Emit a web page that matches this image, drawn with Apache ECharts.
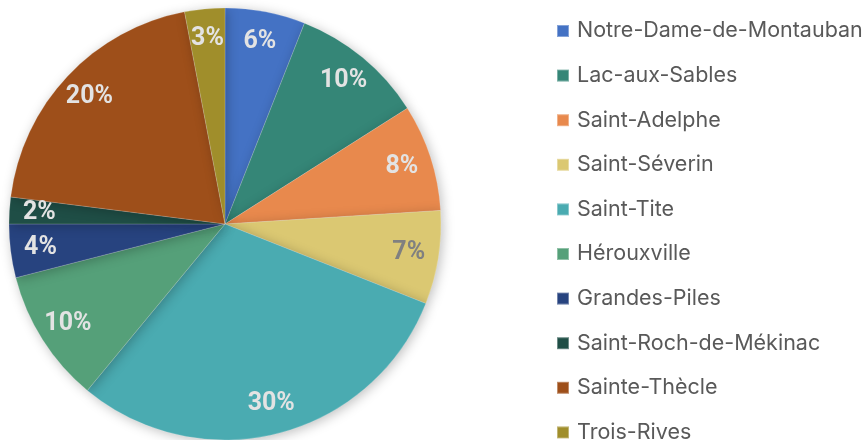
<!DOCTYPE html>
<html>
<head>
<meta charset="utf-8">
<script src="https://cdn.jsdelivr.net/npm/echarts@6/dist/echarts.min.js"></script>
<style>
  html, body { margin: 0; padding: 0; background: #fff; }
  #main { width: 865px; height: 440px; }
</style>
</head>
<body>
<div id="main"></div>
<script>
var names = ['Notre-Dame-de-Montauban', 'Lac-aux-Sables', 'Saint-Adelphe', 'Saint-Séverin', 'Saint-Tite',
  'Hérouxville', 'Grandes-Piles', 'Saint-Roch-de-Mékinac', 'Sainte-Thècle', 'Trois-Rives'];
var values = [6, 10, 8, 7, 30, 10, 4, 2, 20, 3];
var colors = ['#4472C4', '#358677', '#E8894D', '#DBC872', '#4AABB1',
  '#55A079', '#27437F', '#1F4E46', '#9E4F1A', '#A08E2B'];
var labelColors = ['#E3E3E3', '#E3E3E3', '#E3E3E3', '#808080', '#E3E3E3',
  '#E3E3E3', '#E3E3E3', '#E3E3E3', '#E3E3E3', '#E3E3E3'];

var myChart = echarts.init(document.getElementById('main'));

var pieData = names.map(function (n, i) {
  return { name: n, value: values[i], itemStyle: { color: colors[i] } };
});
// second, see-through ring only carries the % labels further out
var labelData = names.map(function (n, i) {
  return {
    name: n, value: values[i],
    label: { color: labelColors[i] }
  };
});

var option = {
  animation: false,
  legend: {
    orient: 'vertical',
    left: 556,
    top: 20,
    height: 440,
    padding: 0,
    itemWidth: 12,
    itemHeight: 12,
    itemGap: 22.6,
    icon: 'rect',
    data: names,
    textStyle: {
      fontFamily: 'Inter',
      fontSize: 21.5,
      lineHeight: 20,
      color: '#595959',
      padding: [0, 0, 0, 3]
    }
  },
  series: [
    {
      type: 'pie',
      center: [225, 224],
      radius: 216,
      startAngle: 90,
      label: { show: false },
      labelLine: { show: false },
      itemStyle: {
        borderColor: 'rgba(255,255,255,0.35)',
        borderWidth: 0.5,
        shadowBlur: 12,
        shadowColor: 'rgba(0,0,0,0.25)',
        shadowOffsetX: 2,
        shadowOffsetY: 2
      },
      emphasis: { disabled: true },
      data: pieData
    },
    {
      type: 'pie',
      center: [225, 224],
      radius: [150, 216],
      startAngle: 90,
      silent: true,
      itemStyle: { color: 'rgba(0,0,0,0)' },
      labelLine: { show: false },
      label: {
        show: true,
        position: 'inside',
        formatter: '{c}%',
        fontFamily: 'Roboto',
        fontWeight: 'bold',
        fontSize: 25
      },
      data: labelData
    }
  ]
};

if (option && typeof option === 'object') {
  myChart.setOption(option);
}
window.addEventListener('resize', myChart.resize);
</script>
</body>
</html>
